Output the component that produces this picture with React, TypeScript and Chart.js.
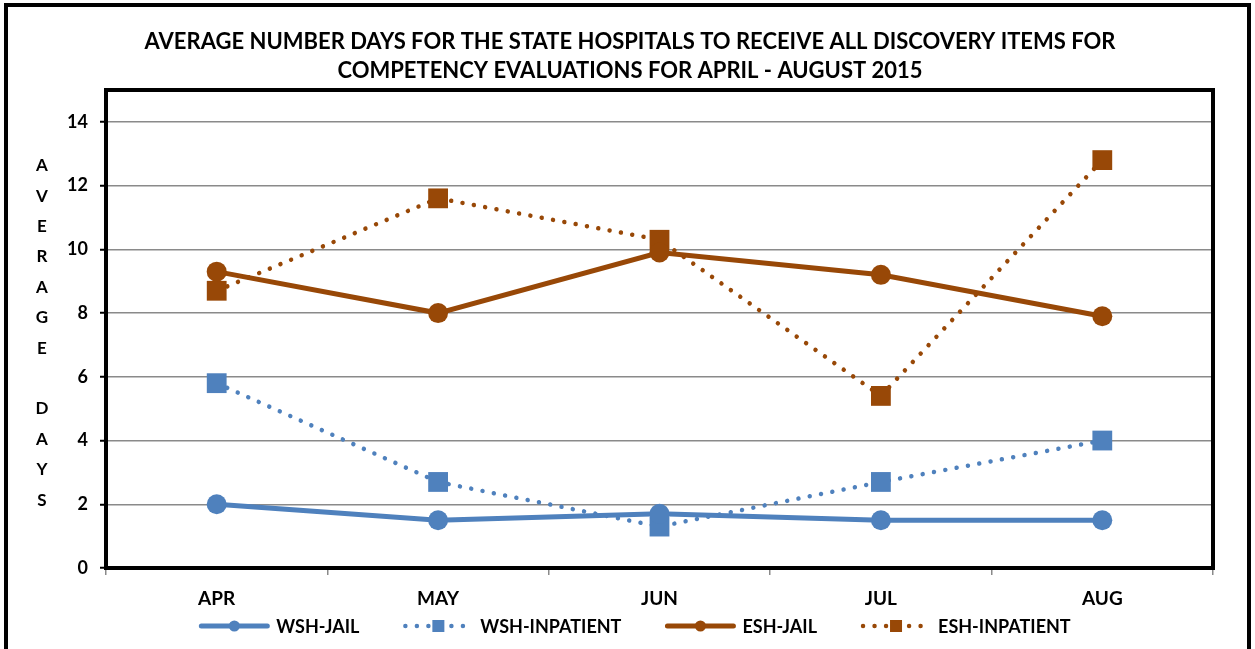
import React, { useEffect, useRef } from "react";
import { Chart, registerables } from "chart.js";

Chart.register(...registerables);

// ---- data ----
const months = ["APR", "MAY", "JUN", "JUL", "AUG"];
const wshJail = [2.0, 1.5, 1.7, 1.5, 1.5];
const wshInpatient = [5.8, 2.7, 1.3, 2.7, 4.0];
const eshJail = [9.3, 8.0, 9.9, 9.2, 7.9];
const eshInpatient = [8.7, 11.6, 10.3, 5.4, 12.8];
const seriesNames = ["WSH-JAIL", "WSH-INPATIENT", "ESH-JAIL", "ESH-INPATIENT"];
const titleLines = [
  "AVERAGE NUMBER DAYS FOR THE STATE HOSPITALS TO RECEIVE ALL DISCOVERY ITEMS FOR",
  "COMPETENCY EVALUATIONS FOR APRIL - AUGUST 2015",
];
const yAxisTitle = "AVERAGE DAYS";
const yMin = 0;
const yMax = 15;
const yStep = 2;

const BLUE = "#4F81BD";
const BROWN = "#984807";
const FONT = "Lato";

const decorPlugin = {
  id: "decor",
  afterDraw(chart: any) {
    const { ctx, chartArea } = chart;
    ctx.save();
    // plot area border
    ctx.strokeStyle = "#000";
    ctx.lineWidth = 4;
    ctx.strokeRect(
      chartArea.left,
      chartArea.top,
      chartArea.right - chartArea.left,
      chartArea.bottom - chartArea.top
    );
    // title
    ctx.fillStyle = "#000";
    ctx.textAlign = "center";
    ctx.textBaseline = "middle";
    ctx.font = `bold 22px ${FONT}`;
    titleLines.forEach((t, i) => ctx.fillText(t, 630, 42 + i * 29));
    // vertical y-axis title
    ctx.font = `bold 17px ${FONT}`;
    const chars = [...yAxisTitle];
    const lh = 30.4;
    const midY = (chartArea.top + chartArea.bottom) / 2 + 4;
    const startY = midY - ((chars.length - 1) * lh) / 2;
    chars.forEach((c, i) => {
      if (c !== " ") ctx.fillText(c, 42, startY + i * lh);
    });
    // legend
    ctx.font = `bold 18px ${FONT}`;
    const sample = 70;
    const gap1 = 7;
    const gap2 = 44;
    const ds = chart.data.datasets;
    const widths = ds.map((d: any) => sample + gap1 + ctx.measureText(d.label).width);
    const total = widths.reduce((a: number, b: number) => a + b, 0) + gap2 * (ds.length - 1);
    let x = 635 - total / 2;
    const y = 626;
    ds.forEach((d: any, i: number) => {
      ctx.save();
      ctx.strokeStyle = d.borderColor;
      ctx.lineWidth = d.borderWidth;
      ctx.lineCap = "round";
      ctx.setLineDash(d.borderDash || []);
      ctx.beginPath();
      ctx.moveTo(x + 2, y);
      ctx.lineTo(x + sample - 2, y);
      ctx.stroke();
      ctx.setLineDash([]);
      ctx.fillStyle = d.borderColor;
      const cx = x + sample / 2;
      if (d.pointStyle === "rect") {
        ctx.fillRect(cx - 6, y - 6, 12, 12);
      } else {
        ctx.beginPath();
        ctx.arc(cx, y, 5.5, 0, Math.PI * 2);
        ctx.fill();
      }
      ctx.restore();
      ctx.fillStyle = "#000";
      ctx.textAlign = "left";
      ctx.textBaseline = "middle";
      ctx.fillText(d.label, x + sample + gap1, y + 1);
      x += widths[i] + gap2;
    });
    ctx.restore();
  },
};

export default function App() {
  const ref = useRef<HTMLCanvasElement | null>(null);

  useEffect(() => {
    if (!ref.current) return;
    Chart.defaults.font.family = FONT;
    const dotted = [0.01, 11.5];
    const chart = new Chart(ref.current, {
      type: "line",
      data: {
        labels: months,
        datasets: [
          {
            label: seriesNames[0],
            data: wshJail,
            borderColor: BLUE,
            backgroundColor: BLUE,
            borderWidth: 5,
            pointStyle: "circle",
            pointRadius: 10,
            pointBorderWidth: 0,
            tension: 0,
          },
          {
            label: seriesNames[1],
            data: wshInpatient,
            borderColor: BLUE,
            backgroundColor: BLUE,
            borderWidth: 4.5,
            borderDash: dotted,
            borderCapStyle: "round",
            pointStyle: "rect",
            pointRadius: 14,
            pointBorderWidth: 0,
            tension: 0,
          },
          {
            label: seriesNames[2],
            data: eshJail,
            borderColor: BROWN,
            backgroundColor: BROWN,
            borderWidth: 5,
            pointStyle: "circle",
            pointRadius: 10,
            pointBorderWidth: 0,
            tension: 0,
          },
          {
            label: seriesNames[3],
            data: eshInpatient,
            borderColor: BROWN,
            backgroundColor: BROWN,
            borderWidth: 4.5,
            borderDash: dotted,
            borderCapStyle: "round",
            pointStyle: "rect",
            pointRadius: 14,
            pointBorderWidth: 0,
            tension: 0,
          },
        ] as any,
      },
      options: {
        responsive: false,
        animation: false,
        devicePixelRatio: 1,
        layout: { padding: { top: 90, left: 0, right: 42, bottom: 0 } },
        plugins: {
          legend: { display: false },
          title: { display: false },
          tooltip: { enabled: false },
        },
        scales: {
          x: {
            offset: true,
            afterFit: (s: any) => {
              s.height = 81;
            },
            grid: {
              offset: true,
              drawOnChartArea: false,
              drawTicks: true,
              tickLength: 7,
              tickColor: "#8a8a8a",
              lineWidth: 1.5,
            },
            border: { display: false },
            ticks: {
              color: "#000",
              padding: 12,
              font: { family: FONT, size: 19, weight: "bold" },
            },
          },
          y: {
            min: yMin,
            max: yMax,
            afterFit: (s: any) => {
              s.width = 106;
            },
            grid: {
              color: "#8a8a8a",
              lineWidth: 1.5,
              tickLength: 6,
              tickColor: "#000",
              tickWidth: 2,
            },
            border: { display: false },
            ticks: {
              stepSize: yStep,
              includeBounds: false,
              color: "#000",
              padding: 12,
              font: { family: FONT, size: 18, weight: "bold" },
            },
          },
        },
      } as any,
      plugins: [decorPlugin],
    });
    return () => chart.destroy();
  }, []);

  return (
    <div
      style={{
        position: "fixed",
        left: 0,
        top: 0,
        width: 1255,
        height: 649,
        overflow: "hidden",
        background: "#fff",
      }}
    >
      <div
        style={{
          position: "absolute",
          left: 4,
          top: 3,
          width: 1247,
          height: 700,
          boxSizing: "border-box",
          border: "4px solid #000",
        }}
      />
      <canvas
        ref={ref}
        width={1255}
        height={649}
        style={{ position: "absolute", left: 0, top: 0, width: 1255, height: 649 }}
      />
    </div>
  );
}
